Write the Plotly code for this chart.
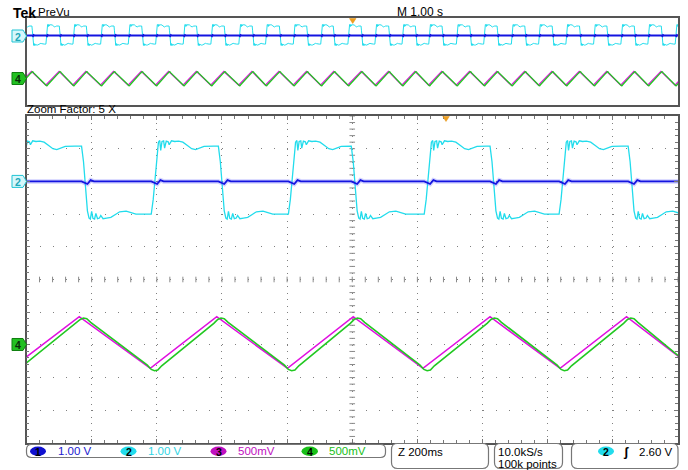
import numpy as np
import plotly.graph_objects as go

W, H = 688, 470

# ---------------- data ----------------
# times in seconds relative to the trigger point (t = 0)
CH2_RISE_T = [-5.11, -4.69, -4.275, -3.85, -3.426, -3.006, -2.583, -2.158, -1.729, -1.319,
              -0.893, -0.472, -0.055, 0.359, 0.776, 1.186, 1.61, 2.029, 2.454, 2.872,
              3.291, 3.716, 4.135, 4.549, 4.969]
CH2_FALL_T = [-4.905, -4.485, -4.07, -3.645, -3.22, -2.80, -2.378, -1.953, -1.524, -1.107,
              -0.687, -0.279, 0.147, 0.571, 0.98, 1.39, 1.815, 2.235, 2.66, 3.08,
              3.50, 3.92, 4.34, 4.755, 5.175]
# CH2 shape after a rising edge (seconds after edge, volts)
CH2_HIGH_DT = [-0.012, -0.006, 0.0, 0.006, 0.010, 0.014, 0.017, 0.021, 0.026, 0.029,
               0.034, 0.040, 0.043, 0.050, 0.060, 0.072, 0.085,
               0.100, 0.112, 0.124, 0.136, 0.150, 0.180]
CH2_HIGH_V = [-1.00, -0.55, 0.15, 0.95, 1.20, 1.25, 0.95, 1.22, 1.24, 1.02,
              1.23, 1.21, 1.12, 1.24, 1.22, 1.23, 1.20,
              1.09, 1.00, 0.97, 1.02, 1.07, 1.08]
# CH2 shape after a falling edge
CH2_LOW_DT = [-0.012, -0.006, 0.0, 0.006, 0.011, 0.015, 0.019, 0.023, 0.028, 0.032,
              0.037, 0.043, 0.047, 0.054, 0.065, 0.078,
              0.092, 0.105, 0.125, 0.140, 0.155, 0.180]
CH2_LOW_V = [1.08, 0.60, -0.15, -0.90, -1.12, -1.15, -0.92, -1.13, -1.15, -0.98,
             -1.14, -1.12, -1.04, -1.14, -1.12, -1.10,
             -1.01, -0.93, -0.91, -0.95, -1.00, -1.00]

CH1_LEVEL_V = 0.0
CH1_GLITCH_DT = [-0.012, -0.003, 0.006, 0.016, 0.026]
CH1_GLITCH_V = [0.0, -0.05, -0.08, 0.04, 0.0]

CH3_PEAK_T = [-4.925, -4.50, -4.09, -3.665, -3.24, -2.82, -2.395, -1.97, -1.54, -1.126,
              -0.704, -0.285, 0.135, 0.554, 0.962, 1.373, 1.798, 2.218, 2.643, 3.063,
              3.483, 3.903, 4.323, 4.738, 5.158]
CH3_TROUGH_T = [-5.125, -4.705, -4.29, -3.865, -3.44, -3.02, -2.598, -2.173, -1.744, -1.334,
                -0.908, -0.487, -0.071, 0.350, 0.761, 1.171, 1.595, 2.014, 2.439, 2.857,
                3.276, 3.701, 4.12, 4.534, 4.954]
CH3_PEAK_V = 0.431
CH3_TROUGH_V = -0.358

CH4_LAG_S = 0.013
CH4_PEAK_DT = [-0.022, -0.010, 0.0, 0.010, 0.022]
CH4_PEAK_V = [0.33, 0.39, 0.41, 0.40, 0.345]
CH4_TROUGH_DT = [-0.022, -0.010, 0.0, 0.010, 0.022]
CH4_TROUGH_V = [-0.31, -0.375, -0.395, -0.385, -0.32]

CH_LABELS = ["1", "2", "3", "4"]
CH_SCALES = ["1.00 V", "1.00 V", "500mV", "500mV"]
MAIN_TIMEBASE = "M 1.00 s"
ZOOM_TEXT = "Zoom Factor: 5 X"
ZOOM_TIMEBASE = "Z 200ms"
SAMPLE_RATE = "10.0kS/s"
RECORD_LEN = "100k points"
TRIG_LEVEL = "2.60 V"

# scope settings
MAIN_S_PER_DIV = 1.0
ZOOM_S_PER_DIV = 0.2
ZOOM_CENTER_S = -0.288
CH12_V_PER_DIV = 1.0
CH12_OFFSET_DIV = 3      # ground marker divisions above centre
CH34_V_PER_DIV = 0.5
CH34_OFFSET_DIV = -2

# ---------------- colours ----------------
C1 = "#1414e0"
C2 = "#22dcec"
C3 = "#e010e0"
C4 = "#22c822"
FONT = "Liberation Sans, Arial, sans-serif"


def px(x):
    return x / W


def py(y):
    return 1 - y / H


# ---------------- build traces ----------------
def build_ch2():
    edges = sorted([(t, 1) for t in CH2_RISE_T] + [(t, 0) for t in CH2_FALL_T])
    ts, vs = [], []
    for i, (t0, kind) in enumerate(edges):
        t_next = edges[i + 1][0] if i + 1 < len(edges) else t0 + 0.3
        dts, vals = (CH2_HIGH_DT, CH2_HIGH_V) if kind else (CH2_LOW_DT, CH2_LOW_V)
        for dt, v in zip(dts, vals):
            if t0 + dt < t_next + dts[0]:
                ts.append(t0 + dt)
                vs.append(v)
    return ts, vs


def build_ch1():
    edges = sorted(CH2_RISE_T + CH2_FALL_T)
    ts, vs = [], []
    for e in edges:
        for dt, v in zip(CH1_GLITCH_DT, CH1_GLITCH_V):
            ts.append(e + dt)
            vs.append(CH1_LEVEL_V + v)
    return ts, vs


def build_ch3():
    pts = [(t, CH3_PEAK_V) for t in CH3_PEAK_T] + [(t, CH3_TROUGH_V) for t in CH3_TROUGH_T]
    pts.sort()
    return [p[0] for p in pts], [p[1] for p in pts]


def build_ch4():
    pts = []
    for t in CH3_PEAK_T:
        for dt, v in zip(CH4_PEAK_DT, CH4_PEAK_V):
            pts.append((t + CH4_LAG_S + dt, v))
    for t in CH3_TROUGH_T:
        for dt, v in zip(CH4_TROUGH_DT, CH4_TROUGH_V):
            pts.append((t + CH4_LAG_S + dt, v))
    pts.sort()
    return [p[0] for p in pts], [p[1] for p in pts]


t2, v2 = build_ch2()
t1, v1 = build_ch1()
t3, v3 = build_ch3()
t4, v4 = build_ch4()

zx0 = ZOOM_CENTER_S - 5 * ZOOM_S_PER_DIV
zx1 = ZOOM_CENTER_S + 5 * ZOOM_S_PER_DIV
y12 = [(-5 - CH12_OFFSET_DIV) * CH12_V_PER_DIV, (5 - CH12_OFFSET_DIV) * CH12_V_PER_DIV]
y34 = [(-5 - CH34_OFFSET_DIV) * CH34_V_PER_DIV, (5 - CH34_OFFSET_DIV) * CH34_V_PER_DIV]

fig = go.Figure()

# graticule centre-line tick marks (main window)
tick_x = ZOOM_CENTER_S + np.arange(-25, 26) * ZOOM_S_PER_DIV / 5
tick_y = y12[0] + np.arange(0, 51) * CH12_V_PER_DIV / 5
centre_v = -CH12_OFFSET_DIV * CH12_V_PER_DIV
fig.add_trace(go.Scatter(x=tick_x, y=[centre_v] * len(tick_x), mode="markers",
                         marker=dict(symbol="line-ns", size=4, line=dict(color="#8a8a8a", width=1)),
                         hoverinfo="skip", xaxis="x", yaxis="y"))
fig.add_trace(go.Scatter(x=[ZOOM_CENTER_S] * len(tick_y), y=tick_y, mode="markers",
                         marker=dict(symbol="line-ew", size=4, line=dict(color="#8a8a8a", width=1)),
                         hoverinfo="skip", xaxis="x", yaxis="y"))

# main (zoom) window traces
fig.add_trace(go.Scatter(x=t2, y=v2, mode="lines", line=dict(color=C2, width=1.3),
                         xaxis="x", yaxis="y"))
fig.add_trace(go.Scatter(x=t1, y=v1, mode="lines", line=dict(color="rgba(90,90,255,0.28)", width=4.5),
                         xaxis="x", yaxis="y"))
fig.add_trace(go.Scatter(x=t1, y=v1, mode="lines", line=dict(color=C1, width=1.8),
                         xaxis="x", yaxis="y"))
fig.add_trace(go.Scatter(x=t3, y=v3, mode="lines", line=dict(color=C3, width=1.6),
                         xaxis="x", yaxis="y2"))
fig.add_trace(go.Scatter(x=t4, y=v4, mode="lines", line=dict(color=C4, width=1.6),
                         xaxis="x", yaxis="y2"))

# overview traces
fig.add_trace(go.Scatter(x=t2, y=v2, mode="lines", line=dict(color=C2, width=1),
                         xaxis="x2", yaxis="y3"))
fig.add_trace(go.Scatter(x=t1, y=v1, mode="lines", line=dict(color=C1, width=2),
                         xaxis="x2", yaxis="y3"))
fig.add_trace(go.Scatter(x=t3, y=v3, mode="lines", line=dict(color=C3, width=1.3),
                         xaxis="x2", yaxis="y4"))
fig.add_trace(go.Scatter(x=t4, y=v4, mode="lines", line=dict(color=C4, width=1.3),
                         xaxis="x2", yaxis="y4"))

XD = [px(26.5), px(678)]
MAIN_YD = [py(443), py(116)]
OV_YD = [py(105), py(18)]
BORDER = "#555555"
GRID = "#808080"

fig.update_layout(
    width=W, height=H, margin=dict(l=0, r=0, t=0, b=0),
    paper_bgcolor="white", plot_bgcolor="white", showlegend=False,
    xaxis=dict(domain=XD, range=[zx0, zx1], anchor="y",
               tick0=ZOOM_CENTER_S, dtick=ZOOM_S_PER_DIV, showticklabels=False,
               ticks="inside", ticklen=4, tickcolor="#777777",
               minor=dict(dtick=ZOOM_S_PER_DIV / 5, tick0=ZOOM_CENTER_S, ticks="inside",
                          ticklen=3, tickcolor="#777777", showgrid=False),
               showline=True, linecolor=BORDER, linewidth=1.5, mirror="ticks",
               showgrid=True, gridcolor=GRID, gridwidth=1, griddash="1px,5.54px",
               zeroline=False, fixedrange=True),
    yaxis=dict(domain=MAIN_YD, range=y12, anchor="x",
               tick0=y12[1], dtick=CH12_V_PER_DIV, showticklabels=False,
               ticks="inside", ticklen=4, tickcolor="#777777",
               minor=dict(dtick=CH12_V_PER_DIV / 5, ticks="inside", ticklen=3,
                          tickcolor="#777777", showgrid=False),
               showline=True, linecolor=BORDER, linewidth=1.5, mirror="ticks",
               showgrid=True, gridcolor=GRID, gridwidth=1, griddash="1px,12.04px",
               zeroline=False, fixedrange=True),
    yaxis2=dict(range=y34, overlaying="y", anchor="x", visible=False, fixedrange=True),
    xaxis2=dict(domain=XD, range=[-5 * MAIN_S_PER_DIV, 5 * MAIN_S_PER_DIV], anchor="y3",
                showticklabels=False, ticks="", showgrid=False, zeroline=False,
                showline=True, linecolor=BORDER, linewidth=1.5, mirror=True, fixedrange=True),
    yaxis3=dict(domain=OV_YD, range=y12, anchor="x2", showticklabels=False, ticks="",
                showgrid=False, zeroline=False, showline=True, linecolor=BORDER,
                linewidth=1.5, mirror=True, fixedrange=True),
    yaxis4=dict(range=y34, overlaying="y3", anchor="x2", visible=False, fixedrange=True),
)

shapes = []
ann = []


def txt(x, y, s, color="black", size=11, xanchor="left", bold=False):
    ann.append(dict(x=px(x), y=py(y), xref="paper", yref="paper", text=("<b>%s</b>" % s) if bold else s,
                    showarrow=False, xanchor=xanchor, yanchor="middle",
                    font=dict(family=FONT, size=size, color=color), borderpad=0))


def path_px(points, fill, line, lw=1):
    d = "M " + " L ".join("%.5f,%.5f" % (px(a), py(b)) for a, b in points) + " Z"
    shapes.append(dict(type="path", path=d, xref="paper", yref="paper",
                       fillcolor=fill, line=dict(color=line, width=lw)))


def rrect(x0, y0, x1, y1, r, line="#777777"):
    P = lambda a, b: "%.5f,%.5f" % (px(a), py(b))
    d = ("M %s L %s Q %s %s L %s Q %s %s L %s Q %s %s L %s Q %s %s Z" % (
        P(x0 + r, y0), P(x1 - r, y0), P(x1, y0), P(x1, y0 + r), P(x1, y1 - r),
        P(x1, y1), P(x1 - r, y1), P(x0 + r, y1), P(x0, y1), P(x0, y1 - r),
        P(x0, y0 + r), P(x0, y0), P(x0 + r, y0)))
    shapes.append(dict(type="path", path=d, xref="paper", yref="paper",
                       fillcolor="white", line=dict(color=line, width=1.2)))


def oval(x0, x1, y0, y1, color, label):
    shapes.append(dict(type="circle", xref="paper", yref="paper", x0=px(x0), x1=px(x1),
                       y0=py(y1), y1=py(y0), fillcolor=color, line=dict(width=0)))
    txt((x0 + x1) / 2, (y0 + y1) / 2 + 0.5, label, color="black", size=10.5, xanchor="center", bold=True)


# header
txt(12, 13, "Tek", size=14, bold=True)
txt(37, 12.5, "PreVu", size=11.5)
txt(396, 12.5, MAIN_TIMEBASE, size=12)
txt(26, 109.5, ZOOM_TEXT, size=11.5)

# trigger markers
path_px([(349.5, 18.5), (356, 18.5), (352.7, 23.5)], "#f0a020", "#e09010", 0.5)
path_px([(442.8, 116.5), (449.3, 116.5), (446, 121.5)], "#f0a020", "#e09010", 0.5)


# channel ground markers
def ch_marker(yc, label, fill, edge, tcol):
    path_px([(12, yc - 6), (23, yc - 6), (26.5, yc), (23, yc + 6), (12, yc + 6)], fill, edge, 1)
    txt(17.5, yc + 0.5, label, color=tcol, size=10.5, xanchor="center", bold=True)


ch_marker(36, "2", "#d6f7fb", "#20c4d4", "#20a8b8")
ch_marker(78.5, "4", "#22c022", "#0f7f0f", "#0a2a0a")
ch_marker(181.4, "2", "#d6f7fb", "#20c4d4", "#20a8b8")
ch_marker(344.5, "4", "#22c022", "#0f7f0f", "#0a2a0a")

# status bar
rrect(26.5, 444.5, 385.5, 457.5, 5)
rrect(391.5, 443.5, 488.5, 468.5, 6)
rrect(494.5, 443.5, 562.5, 468.5, 6)
rrect(571.5, 443.5, 678, 468.5, 6)

oval(30, 46, 446.5, 456, "#1010d0", CH_LABELS[0])
txt(57, 451, CH_SCALES[0], color="#2020d0", size=11.5)
oval(120.5, 136.5, 446.5, 456, C2, CH_LABELS[1])
txt(147, 451, CH_SCALES[1], color="#30d4e4", size=11.5)
oval(210.5, 226.5, 446.5, 456, "#c010c0", CH_LABELS[2])
txt(237, 451, CH_SCALES[2], color="#c010c0", size=11.5)
oval(301.5, 318, 446.5, 456, "#18c018", CH_LABELS[3])
txt(327.5, 451, CH_SCALES[3], color="#18c018", size=11.5)

txt(397, 452, ZOOM_TIMEBASE, size=11.5)
txt(496.5, 452, SAMPLE_RATE, size=11.5)
txt(496.5, 463.5, RECORD_LEN, size=11.5)
oval(598, 614, 446.5, 456, C2, "2")
txt(625.5, 451.5, "ʃ", size=13, xanchor="center", bold=True)
txt(673.5, 451.5, TRIG_LEVEL, size=11.5, xanchor="right")

fig.update_layout(shapes=shapes, annotations=ann)
fig.write_html("out.html")
